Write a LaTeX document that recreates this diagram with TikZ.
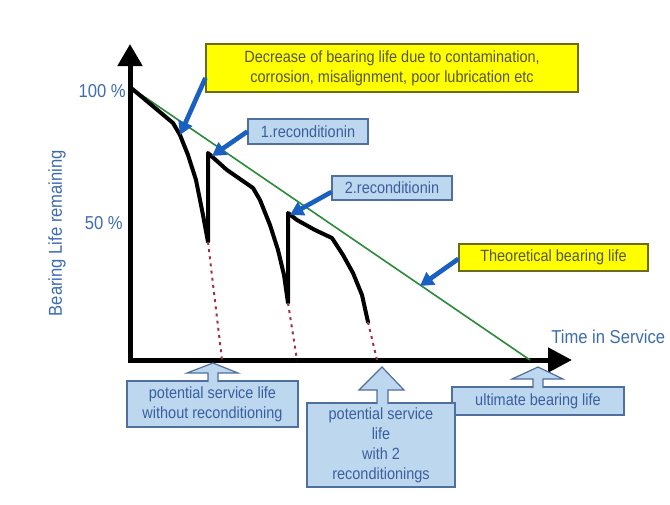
\documentclass[tikz,border=0pt]{standalone}
\usepackage{fontspec}
\setmainfont{Liberation Sans}[FakeStretch=0.89]
\usetikzlibrary{arrows.meta}

\definecolor{boxblue}{HTML}{BDD7EE}
\definecolor{boxedge}{HTML}{4F6F9F}
\definecolor{boxtext}{HTML}{3A5F9F}
\definecolor{notefill}{HTML}{FFFF00}
\definecolor{noteedge}{HTML}{6B6B10}
\definecolor{notetext}{HTML}{55553A}
\definecolor{labelblue}{HTML}{3D6CB0}
\definecolor{pointblue}{HTML}{1A60C0}
\definecolor{theoline}{HTML}{2A8A3A}
\definecolor{dotred}{HTML}{A03048}

\begin{document}
\begin{tikzpicture}[x=0.75pt, y=-0.75pt,
    bluebox/.style={draw=boxedge, fill=boxblue, line width=0.9pt, inner sep=0pt,
        text=boxtext, align=center, font=\fontsize{12.2}{15}\selectfont},
    yellowbox/.style={draw=noteedge, fill=notefill, line width=0.9pt, inner sep=0pt,
        text=notetext, align=center, font=\fontsize{12.2}{15}\selectfont},
    callout/.style={draw=boxedge, fill=boxblue, line width=0.9pt, line join=miter},
    pointer/.style={draw=pointblue, line width=3.5pt, -{Triangle[width=11pt, length=10pt]}},
    axis/.style={line width=3.75pt, {Triangle[width=18pt, length=16.5pt]}-{Triangle[width=18pt, length=18pt]}},
    life/.style={line width=3pt, line join=round, line cap=round},
    dropline/.style={draw=dotred, line width=1.5pt, dash pattern=on 2.2pt off 3.2pt},
    axislabel/.style={text=labelblue, font=\fontsize{14}{16}\selectfont, inner sep=0pt}]

    \useasboundingbox (0,0) rectangle (670,504);

    % Axes
    \coordinate (origin) at (130,360);
    \coordinate (ytop) at (130,44);
    \coordinate (xend) at (572,360);
    \draw[axis] (ytop) -- (origin) -- (xend);

    % Theoretical life
    \coordinate (full) at (130,87);
    \coordinate (ulti) at (530,360);
    \draw[draw=theoline, line width=1.2pt] (full) -- (ulti);

    % Real life with reconditioning
    \coordinate (wear) at (180,135);
    \coordinate (endA) at (208,242);
    \coordinate (topA) at (208,153);
    \coordinate (endB) at (288,303);
    \coordinate (topB) at (288,213);
    \coordinate (endC) at (368,322);
    \draw[life] (full) -- (173,123) -- (wear) -- (188,155) -- (196,180) -- (203,215) -- (endA)
        -- (topA) -- (227,170) -- (253,188) -- (260,200) -- (270,225) -- (278,250) -- (284,275) -- (endB)
        -- (topB) -- (297,220) -- (315,230) -- (332,238) -- (343,255) -- (353,273) -- (362,295) -- (endC);

    % Life without reconditioning
    \coordinate (footA) at (222,360);
    \coordinate (footB) at (297,360);
    \coordinate (footC) at (377,360);
    \draw[dropline] (endA) -- (footA);
    \draw[dropline] (endB) -- (footB);
    \draw[dropline] (endC) -- (footC);

    % Axis labels
    \node[axislabel, anchor=east] (full label) at (126,91) {100 \%};
    \node[axislabel, anchor=east] (half label) at (123,223) {50 \%};
    \node[axislabel, rotate=90] (ylabel) at (57,233) {Bearing Life remaining};
    \node[axislabel, anchor=west] (xlabel) at (551,337) {Time in Service};

    % Notes
    \node[yellowbox, minimum width=279pt, minimum height=36pt] (dec) at (392,68)
        {Decrease of bearing life due to contamination,\\corrosion, misalignment, poor lubrication etc};
    \node[bluebox, minimum width=90pt, minimum height=18.75pt] (recA) at (308,131.5) {1.reconditionin};
    \node[bluebox, minimum width=90pt, minimum height=18pt] (recB) at (392,188) {2.reconditionin};
    \node[yellowbox, minimum width=141.75pt, minimum height=20.25pt] (theo) at (553.5,257.5) {Theoretical bearing life};

    \draw[pointer] ([yshift=-7.5pt]dec.west) -- (wear);
    \draw[pointer] (recA.west) -- (212,156);
    \draw[pointer] ([yshift=-3pt]recB.west) -- (290,215);
    \draw[pointer] ([yshift=-1pt]theo.west) -- (420,286);

    % Callouts under the time axis
    \node[bluebox, minimum width=129pt, minimum height=21pt] (ult) at (538,401) {ultimate bearing life};
    \draw[callout] (533,388) -- (533,379) -- (512,379) -- (538,367) -- (563,379) -- (543,379) -- (543,388);

    \node[bluebox, minimum width=128.25pt, minimum height=34.5pt] (woRec) at (212.5,404)
        {potential service life\\without reconditioning};
    \draw[callout] (208,382) -- (208,373) -- (187,373) -- (213,363) -- (238,373) -- (218,373) -- (218,382);

    \node[bluebox, minimum width=111pt, minimum height=63pt] (wRec) at (381,445)
        {potential service\\life\\with 2\\reconditionings};
    \draw[callout] (377,404) -- (377,390) -- (359,390) -- (382,367) -- (404,390) -- (388,390) -- (388,404);
\end{tikzpicture}
\end{document}
